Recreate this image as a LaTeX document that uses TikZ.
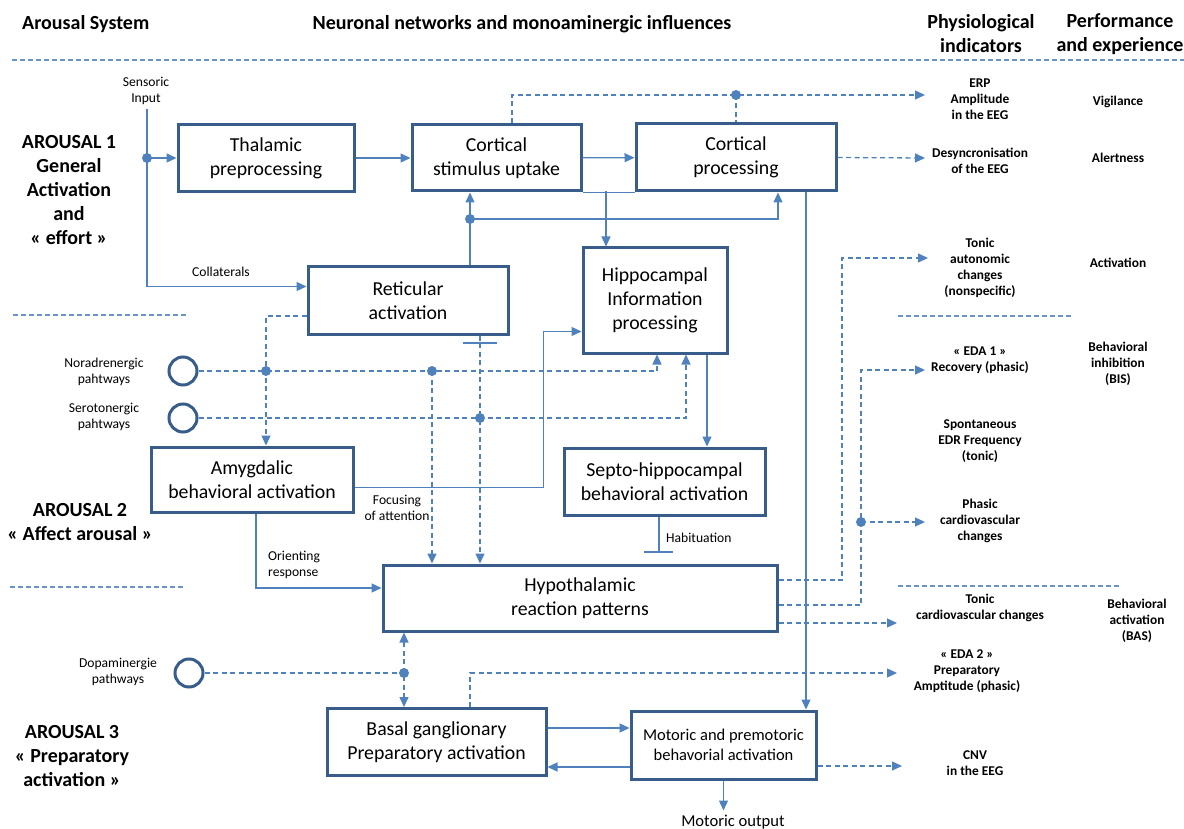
\documentclass[tikz,border=0pt]{standalone}
\usepackage{fontspec}
\setmainfont{Carlito}
\usetikzlibrary{arrows.meta}
\definecolor{lineblue}{RGB}{79,129,189}
\definecolor{boxblue}{RGB}{56,93,138}
\newcommand{\bxfont}{\fontsize{19.8}{24}\selectfont}
\newcommand{\smfont}{\fontsize{13.6}{16}\selectfont}
\newcommand{\indfont}{\fontsize{13.4}{16}\selectfont\bfseries}
\newcommand{\hdfont}{\fontsize{20}{24}\selectfont\bfseries}

\begin{document}
\begin{tikzpicture}[x=1pt, y=-1pt, >={Triangle[length=10pt,width=9pt]},
	box/.style={draw=boxblue, line width=3pt, fill=white, align=center, font=\bxfont, inner sep=0pt},
	conn/.style={lineblue, line width=1.3pt},
	dsh/.style={conn, dash pattern=on 5pt off 3.5pt},
	sep/.style={lineblue!85, line width=1.2pt, dash pattern=on 5pt off 3pt},
	pathway/.style={circle, draw=boxblue, line width=3pt, minimum size=28pt, inner sep=0pt},
	lbl/.style={align=center, font=\smfont, inner sep=0pt},
	ind/.style={align=center, font=\indfont, inner sep=0pt},
	hd/.style={align=center, font=\hdfont, inner sep=0pt}]
	\useasboundingbox (0,0) rectangle (1184,829);

	\node[hd, anchor=west] (hsys) at (22,24) {Arousal System};
	\node[hd] (hnet) at (522,24) {Neuronal networks and monoaminergic influences};
	\node[hd] (hphys) at (981,34) {Physiological\\indicators};
	\node[hd] (hperf) at (1120,34) {Performance\\and experience};
	\draw[sep] (12,60) -- (1184,60);

	\node[hd] (ar1) at (69,190) {AROUSAL 1\\General\\Activation\\and\\« effort »};
	\node[hd] (ar2) at (80,522) {AROUSAL 2\\« Affect arousal »};
	\node[hd] (ar3) at (72,756) {AROUSAL 3\\« Preparatory\\activation »};
	\draw[sep] (13,315) -- (188,315);
	\draw[sep] (10,587) -- (185,587);
	\draw[sep] (898,316) -- (1072,316);
	\draw[sep] (898,586) -- (1121,586);

	\node[box, minimum width=176, minimum height=67] (thal) at (266,158) {Thalamic\\preprocessing};
	\node[box, minimum width=169, minimum height=66] (cstim) at (496.5,158) {Cortical\\stimulus uptake};
	\node[box, minimum width=200, minimum height=67] (cproc) at (736,157.5) {Cortical\\processing};
	\node[box, minimum width=200, minimum height=67] (retic) at (408,300.5) {Reticular\\activation};
	\node[box, minimum width=144, minimum height=105] (hippo) at (655,300.5) {Hippocampal\\Information\\processing};
	\node[box, minimum width=202, minimum height=65] (amyg) at (252,479.5) {Amygdalic\\behavioral activation};
	\node[box, minimum width=201, minimum height=67] (septo) at (664.5,481.5) {Septo-hippocampal\\behavioral activation};
	\node[box, minimum width=394, minimum height=66] (hypo) at (580,598) {Hypothalamic\\reaction patterns};
	\node[box, minimum width=219, minimum height=67] (basal) at (436.5,742) {Basal ganglionary\\Preparatory activation};
	\node[box, minimum width=185, minimum height=68, font=\fontsize{16.5}{20}\selectfont] (motor) at (723.5,745) {Motoric and premotoric\\behavorial activation};

	\node[lbl] (sens) at (146,91) {Sensoric\\Input};
	\node[lbl] (coll) at (221,272) {Collaterals};
	\node[lbl] (norl) at (104,372) {Noradrenergic\\pahtways};
	\node[lbl] (serl) at (104,417) {Serotonergic\\pahtways};
	\node[lbl] (dopl) at (118,672) {Dopaminergie\\pathways};
	\node[lbl] (focus) at (397,508) {Focusing\\of attention};
	\node[lbl, align=left, anchor=west] (orient) at (268,565) {Orienting\\response};
	\node[lbl, anchor=west] (habl) at (666,538) {Habituation};
	\node[font=\fontsize{16.6}{20}\selectfont, inner sep=0pt] (mout) at (733,822) {Motoric output};

	\node[pathway] (nor) at (183,371) {};
	\node[pathway] (ser) at (183,418) {};
	\node[pathway] (dop) at (189,673) {};

	\node[ind] (erp) at (980,99) {ERP\\Amplitude\\in the EEG};
	\node[ind] (desync) at (980,160.5) {Desyncronisation\\of the EEG};
	\node[ind] (tonaut) at (980,268) {Tonic\\autonomic\\changes\\(nonspecific)};
	\node[ind] (eda1) at (980,360) {« EDA 1 »\\Recovery (phasic)};
	\node[ind] (edr) at (980,441) {Spontaneous\\EDR Frequency\\(tonic)};
	\node[ind] (phcard) at (980,521) {Phasic\\cardiovascular\\changes};
	\node[ind] (tocard) at (980,608) {Tonic\\cardiovascular changes};
	\node[ind] (eda2) at (967,671) {« EDA 2 »\\Preparatory\\Amptitude (phasic)};
	\node[ind] (cnv) at (975,763) {CNV\\in the EEG};

	\node[ind] (vig) at (1118,102) {Vigilance};
	\node[ind] (alert) at (1118,158) {Alertness};
	\node[ind] (activ) at (1118,263) {Activation};
	\node[ind] (bis) at (1118,364) {Behavioral\\inhibition\\(BIS)};
	\node[ind] (bas) at (1137,621) {Behavioral\\activation\\(BAS)};

	\coordinate (sj) at (147,158);
	\coordinate (rj) at (470,219);
	\coordinate (cjoin) at (606,191);
	\coordinate (ej) at (736,95);
	\coordinate (rbar) at (480,343);
	\coordinate (nj1) at (266,371);
	\coordinate (nj2) at (432,371);
	\coordinate (serj) at (480,418);
	\coordinate (hbar) at (659,552);
	\coordinate (phj) at (861,522);
	\coordinate (dj) at (404,673);
	\coordinate (erpin) at (925,95);
	\coordinate (desin) at (925,158);
	\coordinate (tonin) at (928,258);
	\coordinate (eda1in) at (925,370);
	\coordinate (phin) at (925,522);
	\coordinate (tcin) at (897,623);
	\coordinate (eda2in) at (897,673);
	\coordinate (cnvin) at (902,766);

	\draw[conn] ([yshift=-4]sens.south -| sj) -- (sj);
	\draw[conn, ->] (sj) -- (thal);
	\draw[conn, ->] (sj) |- ([yshift=14]retic.west);
	\draw[conn, ->] (thal) -- (cstim);
	\draw[conn, ->] (cstim) -- (cproc);
	\draw[conn] (cstim.south east) -- (cproc.south west);
	\draw[conn, ->] (cjoin) -- (cjoin |- hippo.north);
	\draw[conn] (rj |- retic.north) -- (rj);
	\draw[conn, ->] (rj) -- (rj |- cstim.south);
	\draw[conn, ->] (rj) -| ([xshift=42]cproc.south);
	\draw[conn, ->] ([xshift=70]cproc.south) -- ([xshift=70]cproc.south |- motor.north);

	\draw[dsh, ->] ([xshift=15.5]cstim.north) |- (erpin);
	\draw[dsh] (ej) -- (cproc.north);
	\draw[dsh, ->] (cproc.east) -- (desin);

	\draw[dsh, ->] ([yshift=-15.5]retic.west) -| ([xshift=14]amyg.north);
	\draw[dsh] ([xshift=72]retic.south) -- (rbar);
	\draw[conn, line width=2pt] ([xshift=-17]rbar) -- ([xshift=17]rbar);
	\draw[dsh, ->] (rbar) -- (rbar |- hypo.north);
	\draw[dsh, ->] (nor) -| ([xshift=2]hippo.south);
	\draw[dsh, ->] (ser) -| ([xshift=31]hippo.south);
	\draw[dsh, ->] (nj2) -- (nj2 |- hypo.north);

	\draw[conn, ->] ([yshift=-8]amyg.east) -| ([xshift=-38,yshift=-31]hippo.west) -- ([yshift=-31]hippo.west);
	\draw[conn, ->] ([xshift=52]hippo.south) -- ([xshift=52]hippo.south |- septo.north);
	\draw[conn] (hbar |- septo.south) -- (hbar);
	\draw[conn, line width=2pt] ([xshift=-15]hbar) -- ([xshift=14]hbar);
	\draw[conn, ->] ([xshift=4]amyg.south) |- ([yshift=10]hypo.west);

	\draw[dsh, ->] ([yshift=18]hypo.east) -| ([xshift=-86]tonin) -- (tonin);
	\draw[dsh, ->] ([yshift=-7]hypo.east) -| ([xshift=-64]eda1in) -- (eda1in);
	\draw[dsh, ->] (phj) -- (phin);
	\draw[dsh, ->] ([yshift=-25]hypo.east) -- (tcin);

	\draw[dsh] (dop) -- (dj);
	\draw[dsh, <->] (dj |- hypo.south) -- (dj |- basal.north);
	\draw[dsh, ->] ([xshift=33.5]basal.north) |- (eda2in);
	\draw[conn, ->] ([yshift=14]basal.east) -- ([yshift=14]basal.east -| motor.west);
	\draw[conn, ->] ([yshift=-22]motor.west) -- ([yshift=-22]motor.west -| basal.east);
	\draw[dsh, ->] ([yshift=-21]motor.east) -- (cnvin);
	\draw[conn, ->] (motor.south) -- ++(0,30);

	\foreach \j in {sj,rj,ej,nj1,nj2,serj,phj,dj}
		\fill[lineblue] (\j) circle (5pt);
\end{tikzpicture}
\end{document}
